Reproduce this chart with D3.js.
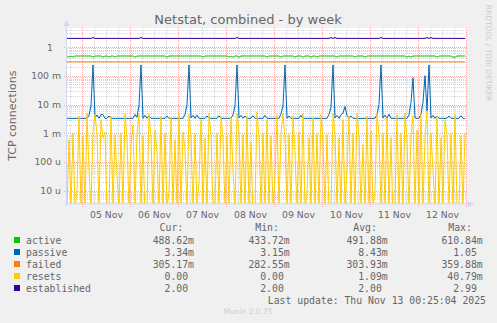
<!DOCTYPE html>
<html>
<head>
<meta charset="utf-8">
<title>Netstat, combined - by week</title>
<script src="https://cdn.jsdelivr.net/npm/d3@7"></script>
<style>
  body { margin: 0; background: #F0F0F0; }
  svg text { font-family: "DejaVu Sans", sans-serif; fill: #666666; }
  .mono { font-family: "DejaVu Sans Mono", monospace; font-size: 9.8px; white-space: pre; }
</style>
</head>
<body>
<div id="chart"></div>
<script>

// series names / colours (legend order = draw order)
var names = ["active", "passive", "failed", "resets", "established"];
var colors = ["#00CC00", "#0066B3", "#FF8000", "#FFCC00", "#330099"];

// legend figures
var curVals = ["488.62m", "3.34m", "305.17m", "0.00", "2.00"];
var minVals = ["433.72m", "3.15m", "282.55m", "0.00", "2.00"];
var avgVals = ["491.88m", "8.43m", "303.93m", "1.09m", "2.00"];
var maxVals = ["610.84m", "1.05", "359.88m", "40.79m", "2.99"];

// y tick labels (log decades)
var yTicks = [1, 0.1, 0.01, 0.001, 0.0001, 0.00001];
var yTickLabels = ["1", "100 m", "10 m", "1 m", "100 u", "10 u"];

// one sample per hour, starting Tue 04 Nov 16:30 UTC
var startTime = Date.UTC(2025, 10, 4, 16, 30);
var endTime = Date.UTC(2025, 10, 13, 0, 30);

var active = [
  0.49,0.44,0.49,0.44,0.49,0.49,0.49,0.49,0.49,0.49,0.49,0.49,0.49,0.44,0.49,0.49,0.49,0.49,0.44,0.49,
  0.49,0.44,0.49,0.49,0.44,0.49,0.49,0.49,0.49,0.49,0.49,0.49,0.49,0.49,0.44,0.49,0.49,0.49,0.49,0.49,
  0.49,0.49,0.49,0.49,0.49,0.49,0.49,0.49,0.49,0.49,0.44,0.49,0.49,0.49,0.49,0.49,0.49,0.49,0.49,0.49,
  0.49,0.49,0.49,0.49,0.49,0.49,0.49,0.49,0.44,0.49,0.49,0.49,0.49,0.49,0.49,0.49,0.49,0.49,0.49,0.49,
  0.49,0.44,0.49,0.44,0.49,0.49,0.44,0.49,0.49,0.49,0.49,0.49,0.49,0.49,0.49,0.49,0.49,0.49,0.49,0.49,
  0.44,0.49,0.49,0.49,0.49,0.49,0.49,0.44,0.49,0.49,0.49,0.49,0.49,0.49,0.44,0.49,0.49,0.49,0.44,0.49,
  0.49,0.49,0.44,0.49,0.49,0.44,0.49,0.49,0.49,0.49,0.49,0.49,0.49,0.49,0.49,0.44,0.49,0.49,0.49,0.49,
  0.49,0.49,0.49,0.49,0.44,0.49,0.49,0.49,0.49,0.44,0.49,0.49,0.49,0.49,0.49,0.49,0.49,0.49,0.49,0.49,
  0.49,0.49,0.49,0.49,0.49,0.49,0.49,0.49,0.49,0.49,0.44,0.49,0.44,0.49,0.49,0.49,0.49,0.49,0.49,0.49,
  0.49,0.49,0.49,0.49,0.49,0.44,0.49,0.49,0.49,0.49,0.49,0.49,0.49,0.44,0.44,0.49,0.49,0.49,0.49,0.49
];

// passive, in milli
var passiveMilli = [
  3.3,3.3,3.3,3.3,3.3,3.3,3.3,3.3,3.3,3.3, 3.3,4.2,9,240,3.4,4.3,3.3,4.5,4.4,3.3,
  3.3,4.0,3.3,3.3,3.3,3.3,3.3,3.3,3.3,3.3, 3.3,3.3,3.3,3.3,4.5,3.6,9,240,3.3,4.2,
  3.3,4.0,3.3,3.3,3.3,3.3,3.3,3.3,3.3,3.3, 4.0,3.3,3.3,3.3,3.3,3.3,3.3,3.3,3.3,4.6,
  9.5,240,3.4,4.2,3.3,4.3,3.3,3.3,3.3,3.3, 4.0,3.3,3.3,3.3,3.3,3.3,4.1,3.3,3.3,3.3,
  3.3,3.3,3.3,4.4,9,240,3.4,4.2,3.3,4.0, 3.3,3.3,3.3,4.1,3.3,3.3,3.3,3.3,3.3,4.2,
  3.3,3.3,3.3,3.3,3.3,3.3,3.3,4.8,9,240, 3.3,4.0,3.3,3.3,3.3,3.3,3.3,4.2,3.3,3.3,
  3.3,3.3,3.3,3.3,3.3,3.3,3.3,3.3,3.3,3.3, 3.3,4.6,8,240,3.4,4.2,3.3,4.4,5,8.5,
  4.2,3.3,4.0,3.3,3.3,3.3,3.3,3.3,3.3,3.3, 3.3,3.3,3.3,3.3,3.3,4.5,10,240,3.4,4.3,
  3.3,4.6,3.3,3.3,3.3,3.3,3.3,3.3,3.3,3.3, 3.3,4.3,12,85,3.4,3.3,3.3,4.6,12,100,
  6,240,3.4,4.2,3.3,4.0,3.3,3.3,3.3,3.3, 3.3,4.0,3.3,3.3,3.3,3.3,3.3,4.1,3.3,3.3
];

var failed = [
  0.305,0.305,0.305,0.305,0.305,0.305,0.305,0.305,0.305,0.305,0.305,0.305,0.305,0.305,0.305,0.305,0.305,0.305,0.305,0.305,
  0.305,0.305,0.305,0.305,0.305,0.305,0.305,0.305,0.305,0.305,0.305,0.305,0.305,0.305,0.305,0.305,0.305,0.305,0.305,0.305,
  0.305,0.305,0.305,0.305,0.305,0.305,0.305,0.305,0.305,0.305,0.305,0.305,0.305,0.305,0.305,0.305,0.305,0.305,0.305,0.305,
  0.305,0.305,0.305,0.305,0.305,0.305,0.305,0.305,0.305,0.305,0.305,0.305,0.305,0.305,0.305,0.305,0.305,0.305,0.305,0.305,
  0.305,0.305,0.305,0.305,0.305,0.305,0.305,0.305,0.305,0.305,0.305,0.305,0.305,0.305,0.305,0.305,0.305,0.305,0.305,0.305,
  0.305,0.305,0.305,0.305,0.305,0.305,0.305,0.305,0.305,0.305,0.305,0.305,0.305,0.305,0.305,0.305,0.305,0.305,0.305,0.305,
  0.305,0.305,0.305,0.305,0.305,0.305,0.305,0.305,0.305,0.305,0.305,0.305,0.305,0.305,0.305,0.305,0.305,0.305,0.305,0.305,
  0.305,0.305,0.305,0.305,0.305,0.305,0.305,0.305,0.305,0.305,0.305,0.305,0.305,0.305,0.305,0.305,0.305,0.305,0.305,0.305,
  0.305,0.305,0.305,0.305,0.305,0.305,0.305,0.305,0.305,0.305,0.305,0.305,0.305,0.305,0.305,0.305,0.305,0.305,0.305,0.305,
  0.305,0.305,0.305,0.305,0.305,0.305,0.305,0.305,0.305,0.305,0.305,0.305,0.305,0.305,0.305,0.305,0.305,0.305,0.305,0.305
];

// resets, in milli
var resetsMilli = [
  0,0.6,0,1,0,0.01,4,0,0.8,0, 5,0.05,0,1.2,4.5,0.9,0,3,0.7,1.1,
  0,0.002,4,0,0.9,0.03,0,1,0,5, 0.6,0,0.4,2,0,1,4.5,0,0.8,0.001,
  0,5,0.7,0,1.3,0.2,0,4,0,1, 0,0.009,3.5,0,0.6,0,5,0,1.1,0.3,
  0,4.5,0.8,0,1,0,0.02,3,0,0.7, 0,5,0.9,0,0.004,1,0,4,0.6,0,
  0.8,0,3.5,0.05,0,5,1.2,0,0.9,0, 4,0,0.5,0.001,0,5.5,0.7,0,1,0,
  3,0,0.8,0,0.03,4.5,0,1,5,0.6, 0,0.9,0,4,0.2,0,1.1,0,5,0,
  0.008,0.7,0,3.5,0,1,0,4.5,0.5,0, 0.9,0.002,0,5,1,0,0.7,0,3,0,
  0.06,4,0,1,0,5,0.8,0,0.4,0, 4,0,1.2,0,0.01,5,0.9,0,1,0,
  3.5,0,0.7,0.001,0,4.5,0,1,0,5, 0.6,0,0.9,4,0,1.3,0,5,0,0.8,
  6,0,1,0.05,0,4,0,0.7,0,3, 0.9,0,1,0,4.5,0.003,0,0.8,0,1
];

var established = [
  2,2,2,2,2,2,2,2,2,2,2,2,2,2.15,2,2,2,2,2,2,
  2,2,2,2,2,2,2,2,2,2,2,2,2,2,2,2,2,2.15,2,2,
  2,2,2,2,2,2,2,2,2,2,2,2,2,2,2,2,2,2,2,2,
  2,2,2,2,2,2,2,2,2,2,2,2,2,2,2,2,2,2,2,2,
  2,2,2,2,2,2.15,2,2,2,2,2,2,2,2,2,2,2,2,2,2,
  2,2,2,2,2,2,2,2,2,2,2,2,2,2,2,2,2,2,2,2,
  2,2,2,2,2,2,2,2,2,2,2,2,2.15,2,2.15,2,2,2,2,2,
  2,2,2,2,2,2,2,2,2,2,2,2,2,2,2,2,2,2.15,2,2,
  2,2,2,2,2,2,2,2,2,2,2,2,2,2,2,2,2,2,2,2,
  2.15,2,2.15,2,2,2,2,2,2,2,2,2,2,2,2,2,2,2,2,2
];

var series = [
  active,
  passiveMilli.map(function(v) { return v / 1000; }),
  failed,
  resetsMilli.map(function(v) { return v / 1000; }),
  established
];

var W = 497, H = 323;
var plotLeft = 67, plotRight = 467, plotTop = 28, plotBottom = 203.5;

var svg = d3.select("#chart").append("svg")
  .attr("width", W).attr("height", H);

svg.append("rect").attr("width", W).attr("height", H).attr("fill", "#F0F0F0");
svg.append("rect").attr("x", plotLeft).attr("y", plotTop)
  .attr("width", plotRight - plotLeft).attr("height", plotBottom - plotTop).attr("fill", "#FFFFFF");

var x = d3.scaleUtc().domain([new Date(startTime), new Date(endTime)]).range([plotLeft, plotRight]);
var y = d3.scaleLog().domain([3.6e-6, 4.6]).range([plotBottom, plotTop]);

function timeAt(i) { return new Date(startTime + i * 3600e3); }

// grid
var grid = svg.append("g").attr("shape-rendering", "crispEdges");

// minor horizontal lines (2..9 of each decade)
var minorY = [];
for (var e = -6; e <= 0; e++) {
  for (var m = 2; m <= 9; m++) {
    var v = m * Math.pow(10, e);
    if (v > y.domain()[0] && v < y.domain()[1]) minorY.push(v);
  }
}
grid.selectAll(".hmin").data(minorY).enter().append("line")
  .attr("x1", plotLeft).attr("x2", plotRight)
  .attr("y1", function(d) { return Math.round(y(d)) + 0.5; })
  .attr("y2", function(d) { return Math.round(y(d)) + 0.5; })
  .attr("stroke", "#d4d4d4").attr("stroke-dasharray", "1,1");

// minor vertical lines every 6 hours
var sixHours = d3.utcHour.every(6).range(x.domain()[0], x.domain()[1]);
grid.selectAll(".vmin").data(sixHours).enter().append("line")
  .attr("y1", plotTop).attr("y2", plotBottom)
  .attr("x1", function(d) { return Math.round(x(d)) + 0.5; })
  .attr("x2", function(d) { return Math.round(x(d)) + 0.5; })
  .attr("stroke", "#d4d4d4").attr("stroke-dasharray", "1,1");

// major lines
var midnights = d3.utcDay.range(x.domain()[0], x.domain()[1]);
grid.selectAll(".vmaj").data(midnights).enter().append("line")
  .attr("y1", plotTop).attr("y2", plotBottom + 3)
  .attr("x1", function(d) { return Math.round(x(d)) + 0.5; })
  .attr("x2", function(d) { return Math.round(x(d)) + 0.5; })
  .attr("stroke", "#f0a8a8").attr("stroke-dasharray", "1,1");
grid.selectAll(".hmaj").data(yTicks).enter().append("line")
  .attr("x1", plotLeft - 3).attr("x2", plotRight)
  .attr("y1", function(d) { return Math.round(y(d)) + 0.5; })
  .attr("y2", function(d) { return Math.round(y(d)) + 0.5; })
  .attr("stroke", "#f0a8a8").attr("stroke-dasharray", "1,1");

// series lines
svg.append("clipPath").attr("id", "plotclip").append("rect")
  .attr("x", plotLeft).attr("y", plotTop).attr("width", plotRight - plotLeft).attr("height", plotBottom - plotTop);

var line = d3.line()
  .x(function(d, i) { return x(timeAt(i)); })
  .y(function(d) { return d > 0 ? y(d) : plotBottom + 4; });

var plot = svg.append("g").attr("clip-path", "url(#plotclip)");
series.forEach(function(s, k) {
  plot.append("path")
    .datum(s)
    .attr("d", line)
    .attr("fill", "none")
    .attr("stroke", colors[k])
    .attr("stroke-width", 1);
});

// axes
var yAxis = d3.axisLeft(y).tickValues(yTicks).tickSize(0).tickPadding(6)
  .tickFormat(function(d, i) { return yTickLabels[i]; });
var gy = svg.append("g").attr("transform", "translate(" + plotLeft + ",0)").call(yAxis);
gy.select(".domain").remove();
gy.selectAll("text").attr("font-size", "9.3px").attr("font-family", "DejaVu Sans").attr("fill", "#666")
  .attr("dx", function(d, i) { return yTickLabels[i] === "1" ? -8 : 0; });

var noons = midnights.map(function(d) { return d3.utcHour.offset(d, 12); })
  .filter(function(d) { return d < x.domain()[1]; });
var xAxis = d3.axisBottom(x).tickValues(noons).tickSize(0).tickPadding(8)
  .tickFormat(d3.utcFormat("%d %b"));
var gx = svg.append("g").attr("transform", "translate(0," + plotBottom + ")").call(xAxis);
gx.select(".domain").remove();
gx.selectAll("text").attr("font-size", "9.3px").attr("font-family", "DejaVu Sans").attr("fill", "#666");

// axis lines with arrows
var axisColor = "#CFD6F8";
svg.append("line").attr("x1", plotLeft - 0.5).attr("x2", plotLeft - 0.5).attr("y1", plotBottom + 3).attr("y2", plotTop - 5)
  .attr("stroke", axisColor);
svg.append("line").attr("x1", plotLeft - 3).attr("x2", plotRight + 3).attr("y1", plotBottom + 0.5).attr("y2", plotBottom + 0.5)
  .attr("stroke", axisColor);
svg.append("path").attr("d", "M" + (plotLeft - 3.5) + "," + (plotTop - 2) + "L" + (plotLeft - 0.5) + "," + (plotTop - 8) + "L" + (plotLeft + 2.5) + "," + (plotTop - 2) + "Z")
  .attr("fill", axisColor);
svg.append("path").attr("d", "M" + (plotRight + 1) + "," + (plotBottom - 2.5) + "L" + (plotRight + 7) + "," + (plotBottom + 0.5) + "L" + (plotRight + 1) + "," + (plotBottom + 3.5) + "Z")
  .attr("fill", axisColor);

// title and side texts
svg.append("text").attr("x", 248).attr("y", 24).attr("text-anchor", "middle")
  .attr("font-size", "13px").text("Netstat, combined - by week");
svg.append("text").attr("transform", "translate(16," + ((plotTop + plotBottom) / 2) + ") rotate(-90)")
  .attr("text-anchor", "middle").attr("font-size", "11px").text("TCP connections");
svg.append("text").attr("transform", "translate(486,53) rotate(90)")
  .attr("text-anchor", "middle").attr("font-size", "7.5px").style("fill", "#cccccc")
  .text("RRDTOOL / TOBI OETIKER");
svg.append("text").attr("x", 248).attr("y", 314).attr("text-anchor", "middle")
  .attr("font-size", "7.5px").style("fill", "#cccccc").text("Munin 2.0.75");

// legend
var charW = 5.9;
var cols = [
  { head: "Cur:", vals: curVals, end: 194 },
  { head: "Min:", vals: minVals, end: 289.7 },
  { head: "Avg:", vals: avgVals, end: 387.7 },
  { head: "Max:", vals: maxVals, end: 482.7 }
];
var rowY = [240, 252, 264, 276, 288];

cols.forEach(function(c) {
  svg.append("text").attr("class", "mono").attr("x", c.end - 2 * charW + 1).attr("y", 230.5)
    .attr("text-anchor", "end").text(c.head);
  c.vals.forEach(function(v, i) {
    var hasUnit = /[a-z]$/.test(v);
    svg.append("text").attr("class", "mono")
      .attr("x", hasUnit ? c.end : c.end - charW).attr("y", rowY[i] + 3.5)
      .attr("text-anchor", "end").text(v);
  });
});

names.forEach(function(n, i) {
  svg.append("rect").attr("x", 14).attr("y", rowY[i] - 3).attr("width", 6).attr("height", 6)
    .attr("fill", colors[i]);
  svg.append("text").attr("class", "mono").attr("x", 26).attr("y", rowY[i] + 3.5).text(n);
});

svg.append("text").attr("class", "mono").attr("x", 486).attr("y", 304)
  .attr("text-anchor", "end").text("Last update: Thu Nov 13 00:25:04 2025");

</script>
</body>
</html>
